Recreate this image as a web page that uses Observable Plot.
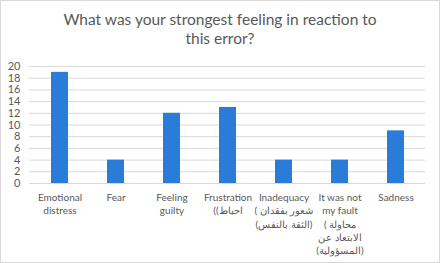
<!DOCTYPE html>
<html>
<head>
<meta charset="utf-8">
<script src="https://cdn.jsdelivr.net/npm/d3@7"></script>
<script src="https://cdn.jsdelivr.net/npm/@observablehq/plot@0.6"></script>
<style>
  html, body { margin: 0; padding: 0; background: #fff; }
  #chart { position: relative; width: 440px; height: 263px; box-sizing: border-box; overflow: hidden;
           outline: 1px solid #d9d9d9; outline-offset: -1px; font-family: Lato, "Open Sans", sans-serif; }
  #title { height: 56px; box-sizing: border-box; padding-top: 10px; text-align: center; color: #595959;
           font-size: 15.5px; line-height: 19px; }
</style>
</head>
<body>
<div id="chart">
  <div id="title">What was your strongest feeling in reaction to<br>this error?</div>
</div>
<script>
const categories = ["Emotional distress", "Fear", "Feeling guilty", "Frustration", "Inadequacy", "It was not my fault", "Sadness"];
const values = [19, 4, 12, 13, 4, 4, 9];
const tickLabels = [
  "Emotional\ndistress",
  "Fear",
  "Feeling\nguilty",
  "Frustration\n((احباط",
  "Inadequacy\n( شعور بفقدان\n(الثقة بالنفس)",
  "It was not\nmy fault\n( محاولة\nالابتعاد عن\n(المسؤولية)",
  "Sadness"
];
const yTicks = [0, 2, 4, 6, 8, 10, 12, 14, 16, 18, 20];

const data = categories.map((c, i) => ({category: c, value: values[i]}));
const labelOf = new Map(categories.map((c, i) => [c, tickLabels[i]]));

const plot = Plot.plot({
  width: 440,
  height: 207,
  marginTop: 10,
  marginBottom: 80,
  marginLeft: 29,
  marginRight: 15,
  style: {fontFamily: "Lato, 'Open Sans', sans-serif", fontSize: "10px", color: "#595959", background: "transparent"},
  x: {domain: categories, paddingInner: 0.7, paddingOuter: 0.35, label: null},
  y: {domain: [0, 20], label: null},
  marks: [
    Plot.gridY(yTicks, {stroke: "#d9d9d9", strokeOpacity: 1, strokeWidth: 1}),
    Plot.axisY(yTicks, {tickSize: 0, tickPadding: 9, label: null, fontSize: 11}),
    Plot.barY(data, {x: "category", y: "value", fill: "#2b7bd8"}),
    Plot.axisX({tickSize: 0, tickPadding: 8, label: null, tickFormat: d => labelOf.get(d), lineHeight: 1.33, fontSize: 10}),
    Plot.ruleY([0], {stroke: "#d9d9d9"})
  ]
});
plot.style.display = "block";
document.getElementById("chart").appendChild(plot);
</script>
</body>
</html>
